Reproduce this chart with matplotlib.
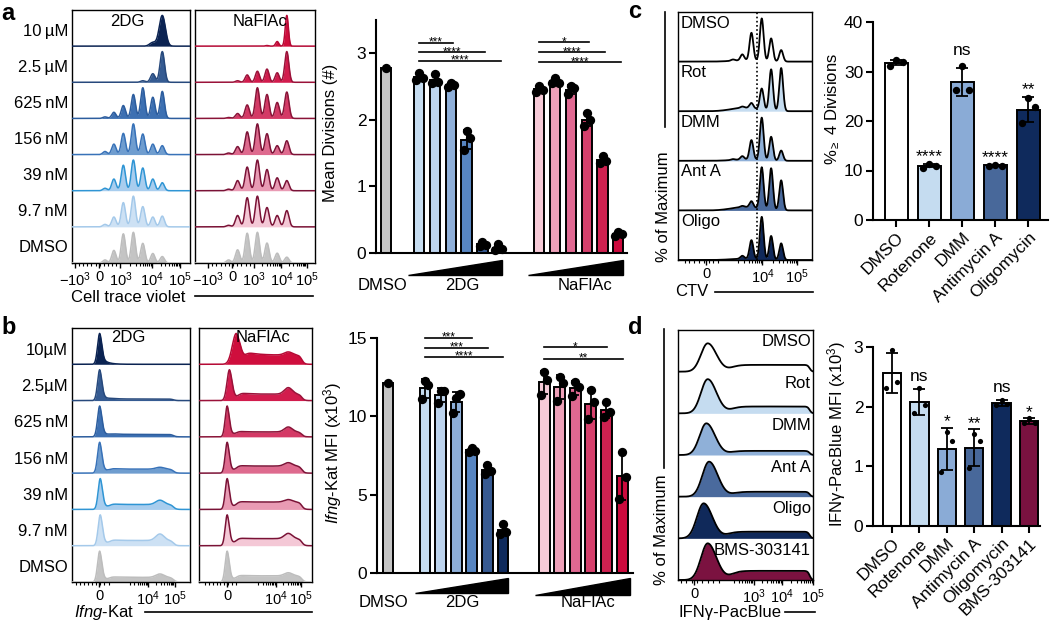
import numpy as np
import matplotlib.pyplot as plt
from matplotlib.lines import Line2D
from matplotlib.patches import Polygon

plt.rcParams['font.family'] = ['Liberation Sans', 'DejaVu Sans']
plt.rcParams['mathtext.fontset'] = 'custom'
plt.rcParams['mathtext.rm'] = 'Liberation Sans'
plt.rcParams['mathtext.it'] = 'Liberation Sans:italic'
plt.rcParams['mathtext.bf'] = 'Liberation Sans:bold'

W, H = 1050, 621

# ---------------- data ----------------
rows_a = ['10\u2009µM', '2.5\u2009µM', '625\u2009nM', '156\u2009nM', '39\u2009nM', '9.7\u2009nM', 'DMSO']
rows_b = ['10µM', '2.5µM', '625\u2009nM', '156\u2009nM', '39\u2009nM', '9.7\u2009nM', 'DMSO']

# CTV histograms: peak height per division (undivided first), relative to max
ctv_peak_pos = [0.765, 0.685, 0.60, 0.52, 0.435, 0.355, 0.28]
ctv_2dg = [
    [1.00, 0.12, 0.00, 0.00, 0.00, 0.00, 0.00],
    [1.00, 0.28, 0.05, 0.00, 0.00, 0.00, 0.00],
    [0.88, 0.69, 1.00, 0.78, 0.42, 0.20, 0.05],
    [0.29, 0.34, 0.67, 1.00, 0.69, 0.34, 0.10],
    [0.26, 0.38, 0.74, 1.00, 0.83, 0.38, 0.08],
    [0.35, 0.32, 0.66, 1.00, 0.79, 0.32, 0.08],
    [0.21, 0.31, 0.64, 1.00, 0.95, 0.41, 0.10],
]
ctv_2dg_width = [0.026, 0.019, 0.018, 0.018, 0.018, 0.018, 0.018]
ctv_nafl = [
    [1.00, 0.15, 0.02, 0.00, 0.00, 0.00, 0.00],
    [1.00, 0.31, 0.43, 0.36, 0.24, 0.05, 0.00],
    [0.86, 0.52, 0.78, 1.00, 0.44, 0.16, 0.03],
    [0.45, 0.29, 0.68, 1.00, 0.74, 0.26, 0.05],
    [0.33, 0.42, 0.69, 1.00, 0.77, 0.33, 0.05],
    [0.53, 0.37, 0.63, 1.00, 0.95, 0.37, 0.05],
    [0.19, 0.32, 0.65, 1.00, 0.97, 0.43, 0.10],
]
ctv_nafl_width = [0.013, 0.017, 0.018, 0.018, 0.018, 0.018, 0.018]

# Ifng-Kat histograms: negative peak position, plateau and bright bump (relative to max)
ifng_2dg_peak = [0.235, 0.235, 0.235, 0.235, 0.24, 0.24, 0.235]
ifng_2dg_plateau = [0.00, 0.05, 0.08, 0.13, 0.16, 0.17, 0.15]
ifng_2dg_bump = [0.00, 0.05, 0.08, 0.19, 0.30, 0.38, 0.26]
ifng_nafl_peak = [0.33, 0.27, 0.25, 0.25, 0.25, 0.25, 0.25]
ifng_nafl_width = [0.035, 0.022, 0.018, 0.018, 0.018, 0.018, 0.018]
ifng_nafl_plateau = [0.30, 0.21, 0.16, 0.23, 0.24, 0.23, 0.20]
ifng_nafl_bump = [0.40, 0.42, 0.32, 0.34, 0.32, 0.40, 0.30]

# Mean divisions (panel a bars)
div_dmso = [2.78]
div_2dg = [[2.70, 2.62, 2.60], [2.68, 2.57, 2.55], [2.55, 2.52, 2.49],
           [1.83, 1.72, 1.55], [0.17, 0.12, 0.10], [0.13, 0.06, 0.05]]
div_nafl = [[2.50, 2.45, 2.42], [2.62, 2.55, 2.55], [2.50, 2.47, 2.38],
            [2.10, 2.00, 1.90], [1.45, 1.38, 1.35], [0.32, 0.28, 0.25]]
sig_a_2dg = ['***', '****', '****']
sig_a_2dg_to = [2, 4, 5]
sig_a_nafl = ['*', '****', '****']
sig_a_nafl_to = [3, 4, 5]

# Ifng-Kat MFI x10^3 (panel b bars)
mfi_dmso = [12.1]
mfi_2dg = [[12.25, 12.0, 11.1], [11.6, 11.6, 10.85], [11.2, 11.4, 10.2],
           [8.0, 7.8, 7.7], [6.9, 6.5, 6.3], [3.1, 2.6, 2.5]]
mfi_nafl = [[12.85, 12.3, 11.35], [12.5, 12.1, 11.0], [12.2, 11.9, 11.3],
            [11.7, 10.9, 9.8], [10.9, 10.3, 9.95], [7.75, 6.15, 4.7]]
sig_b_2dg = ['***', '***', '****']
sig_b_2dg_to = [3, 4, 5]
sig_b_nafl = ['*', '**']
sig_b_nafl_to = [4, 5]

# panel c
rows_c = ['DMSO', 'Rot', 'DMM', 'Ant A', 'Oligo']
ctv_c_pos = [0.77, 0.695, 0.625, 0.548, 0.48, 0.41]
ctv_c = [
    [0.27, 0.54, 1.00, 0.65, 0.14, 0.03],
    [1.00, 0.96, 0.49, 0.12, 0.03, 0.00],
    [0.24, 0.56, 1.00, 0.46, 0.08, 0.02],
    [0.72, 1.00, 1.00, 0.15, 0.03, 0.00],
    [0.39, 0.56, 1.00, 0.44, 0.07, 0.00],
]
ctv_c_tail = [0.03, 0.08, 0.03, 0.08, 0.03]
names_c = ['DMSO', 'Rotenone', 'DMM', 'Antimycin A', 'Oligomycin']
div4_pts = [[32.3, 31.9, 31.2], [11.3, 11.0, 10.6], [31.2, 26.3, 26.2],
            [11.2, 11.0, 10.9], [24.6, 22.8, 19.5]]
div4_sig = ['', '****', 'ns', '****', '**']

# panel d
rows_d = ['DMSO', 'Rot', 'DMM', 'Ant A', 'Oligo', 'BMS-303141']
ifn_hist_height = [0.68, 0.82, 0.76, 0.84, 0.84, 0.88]
ifn_hist_center = [0.22, 0.22, 0.21, 0.23, 0.19, 0.22]
ifn_hist_plateau = [0.24, 0.20, 0.13, 0.14, 0.19, 0.25]
names_d = ['DMSO', 'Rotenone', 'DMM', 'Antimycin A', 'Oligomycin', 'BMS-303141']
ifn_pts = [[2.95, 2.42, 2.32], [2.32, 2.03, 1.90], [1.57, 1.42, 0.90],
           [1.55, 1.42, 0.97], [2.11, 2.04, 2.03], [1.81, 1.73, 1.72]]
ifn_sig = ['', 'ns', '*', '**', 'ns', '*']

# ---------------- colours ----------------
fill_2dg = ['#0b2352', '#355b92', '#3d70b2', '#6f9dcf', '#a8cdee', '#cde1f4', '#c4c4c4']
edge_2dg = ['#0b2352', '#27497c', '#2c5d9e', '#3872b8', '#2f95d4', '#a4c9ea', '#bdbdbd']
fill_nafl = ['#cf0e3d', '#d21c4d', '#d43a66', '#de6a8e', '#e99bb4', '#f4c8d6', '#c4c4c4']
edge_nafl = ['#b50a35', '#9a1239', '#8a1438', '#7c1236', '#7a1236', '#7a1236', '#bdbdbd']
bar_2dg = ['#c6ddf1', '#bcd3ed', '#8eafd9', '#5785c1', '#375a92', '#0f2a5c']
bar_nafl = ['#f6cad7', '#eda0b8', '#e06891', '#d6406c', '#cf2150', '#cc0a3d']
col_c = ['white', '#c5dcf0', '#8aabd6', '#48689a', '#0f2a5c']
col_d = ['white', '#c5dcf0', '#8aabd6', '#48689a', '#0f2a5c', '#7a1240']

fig = plt.figure(figsize=(W / 100, H / 100), dpi=100)
u = np.linspace(0, 1, 800)


def px_axes(x0, y0, x1, y1):
    return fig.add_axes([x0 / W, 1 - y1 / H, (x1 - x0) / W, (y1 - y0) / H])


def ftext(x, y, s, **kw):
    fig.text(x / W, 1 - y / H, s, **kw)


def fline(x0, y0, x1, y1, lw=1.2):
    fig.add_artist(Line2D([x0 / W, x1 / W], [1 - y0 / H, 1 - y1 / H], color='black', lw=lw))


def bell(c, w):
    return np.exp(-0.5 * ((u - c) / w) ** 2)


def step(a, s):
    return 1 / (1 + np.exp(-(u - a) / s))


def ctv_curve(heights, pos, w, tail=0.0):
    y = np.zeros_like(u)
    for h, p in zip(heights, pos):
        y += h * bell(p, w)
    y += tail * bell(0.5, 0.1) * step(0.25, 0.03)
    return y / max(1.0, y.max())


def ifng_curve(c, w, plateau, bump, bump_pos, end):
    right = 0.7 * bell(c, w) + 0.3 * np.exp(-np.clip(u - c, 0, None) / (2.5 * w))
    y = np.where(u < c, bell(c, w), right)
    y = y + plateau * step(c + 0.08, 0.015) * (1 - step(end, 0.012))
    y = y + max(bump - plateau, 0) * bell(bump_pos, 0.035)
    return y / y.max()


def ifn_curve(c, plateau):
    y = np.where(u < c, bell(c, 0.05), bell(c, 0.065))
    y = y + plateau * step(c + 0.17, 0.03) * (1 - step(0.975, 0.008))
    return y / y.max()


def decade_minor(a, b):
    return [a + (b - a) * np.log10(k) for k in range(2, 10)]


def hist_panel(box, curves, fills, edges, scale, lw, ticks, labels, minor):
    ax = px_axes(*box)
    n = len(curves)
    for i, (c, fc, ec) in enumerate(zip(curves, fills, edges)):
        base = n - 1 - i
        ax.fill_between(u, base, base + scale[i] * c, color=fc, lw=0, zorder=2)
        ax.plot(u, base + scale[i] * c, color=ec, lw=lw, zorder=3)
    ax.set_xlim(0, 1)
    ax.set_ylim(0, n)
    ax.set_yticks([])
    ax.set_xticks(ticks)
    ax.set_xticklabels(labels)
    ax.set_xticks(minor, minor=True)
    ax.tick_params(axis='x', which='major', length=3.5, width=1, pad=1.5, labelsize=10.5)
    ax.tick_params(axis='x', which='minor', length=2, width=0.8)
    for s in ax.spines.values():
        s.set_linewidth(1.0)
    return ax


def draw_bars(ax, xs, pts_list, colors, width, ms, offs, cap):
    for x, pts, col in zip(xs, pts_list, colors):
        pts = np.asarray(pts, dtype=float)
        m = pts.mean()
        ax.bar(x, m, width, color=col, edgecolor='black', linewidth=1.4, zorder=2)
        if pts.size > 1:
            ax.errorbar(x, m, yerr=pts.std(ddof=1), fmt='none', ecolor='black',
                        elinewidth=1.3, capsize=cap, capthick=1.3, zorder=3)
        ax.scatter(x + np.asarray(offs[:pts.size]), pts, s=ms, color='black',
                   zorder=4, clip_on=False, linewidths=0)


def sig_lines(ax, x0, ends, ys, labels, fs=8.5):
    for xe, y, lab in zip(ends, ys, labels):
        ax.plot([x0, xe], [y, y], color='black', lw=1.2, clip_on=False)
        ax.annotate(lab, ((x0 + xe) / 2, y), xytext=(0, -2.0), textcoords='offset points',
                    ha='center', va='baseline', fontsize=fs, annotation_clip=False)


def style(ax, lw=1.5):
    ax.spines['top'].set_visible(False)
    ax.spines['right'].set_visible(False)
    ax.spines['left'].set_linewidth(lw)
    ax.spines['bottom'].set_linewidth(lw)
    ax.tick_params(width=lw, length=5, labelsize=12.5, pad=2)


def wedge(ax, x0, x1, y_top, y_bot):
    ax.add_patch(Polygon([(x0, y_bot), (x1, y_bot), (x1, y_top)], closed=True,
                         color='black', clip_on=False))


# ================= panel a : histograms =================
row_scale7 = [0.85] * 7
ticks_a1 = [0.025, 0.23, 0.41, 0.68, 0.915]
ticks_a2 = [0.11, 0.31, 0.49, 0.72, 0.93]
lab_a = ['$-10^{3}$', '0', '$10^{3}$', '$10^{4}$', '$10^{5}$']
for box, data, widths, fills, edges, ticks, title, tx in [
        ((72, 10, 190, 263), ctv_2dg, ctv_2dg_width, fill_2dg, edge_2dg, ticks_a1, '2DG', 127),
        ((195, 10, 315, 263), ctv_nafl, ctv_nafl_width, fill_nafl, edge_nafl, ticks_a2, 'NaFlAc', 260)]:
    curves = [ctv_curve(h, ctv_peak_pos, w) for h, w in zip(data, widths)]
    minor = (decade_minor(ticks[2], ticks[3]) + decade_minor(ticks[3], ticks[4])
             + list(np.linspace(ticks[0], ticks[2], 12)[1:-1]))
    hist_panel(box, curves, fills, edges, row_scale7, 1.1, ticks, lab_a, minor)
    ftext(tx, 22, title, ha='center', va='center', fontsize=12)

row_h = (263 - 10) / 7
for i, lab in enumerate(rows_a):
    ftext(68, 10 + (i + 0.5) * row_h + 3, lab, ha='right', va='center', fontsize=12)
ftext(128, 297, 'Cell trace violet', ha='center', va='center', fontsize=12)
fline(195, 296, 313, 296)
ftext(1, 13, 'a', ha='left', va='center', fontsize=17, weight='bold')

# ================= panel a : bars =================
ax = px_axes(376, 19.5, 627, 253)
x_2dg = 2.1 + np.arange(6)
x_nafl = 9.7 + np.arange(6)
offs = [0.0, 0.22, -0.18]
draw_bars(ax, [0], [div_dmso], ['#c4c4c4'], 0.65, 45, offs, 3)
draw_bars(ax, x_2dg, div_2dg, bar_2dg, 0.65, 45, offs, 3)
draw_bars(ax, x_nafl, div_nafl, bar_nafl, 0.65, 45, offs, 3)
ax.set_xlim(-0.633, 15.25)
ax.set_ylim(0, 3.5)
ax.set_yticks([0, 1, 2, 3])
ax.set_xticks([])
style(ax)
sig_lines(ax, x_2dg[0], [x_2dg[k] + 0.15 for k in sig_a_2dg_to], [3.15, 3.01, 2.88], sig_a_2dg)
sig_lines(ax, x_nafl[0], [x_nafl[k] + 0.15 for k in sig_a_nafl_to], [3.16, 3.01, 2.86], sig_a_nafl)
wedge(ax, x_2dg[0] - 0.7, x_2dg[-1] + 0.25, -0.105, -0.33)
wedge(ax, x_nafl[0] - 0.7, x_nafl[-1] + 0.3, -0.105, -0.33)
for x, lab in [(-0.25, 'DMSO'), (x_2dg.mean() + 0.2, '2DG'), (x_nafl.mean() + 0.4, 'NaFlAc')]:
    ax.text(x, -0.48, lab, ha='center', va='center', fontsize=12, clip_on=False)
ftext(330, 133, 'Mean Divisions (#)', rotation=90, ha='center', va='center', fontsize=12)

# ================= panel b : histograms =================
for box, peaks, widths, plats, bumps, bpos, end, fills, edges, ticks, title, tx in [
        ((72, 328, 190, 582), ifng_2dg_peak, [0.018] * 7, ifng_2dg_plateau, ifng_2dg_bump,
         0.745, 0.86, fill_2dg, edge_2dg, [0.23, 0.645, 0.87], '2DG', 128),
        ((199, 328, 312, 582), ifng_nafl_peak, ifng_nafl_width, ifng_nafl_plateau, ifng_nafl_bump,
         0.79, 0.91, fill_nafl, edge_nafl, [0.25, 0.68, 0.90], 'NaFlAc', 263)]:
    curves = [ifng_curve(c, w, p, b, bpos, end) for c, w, p, b in zip(peaks, widths, plats, bumps)]
    p3 = 2 * ticks[1] - ticks[2]
    minor = (decade_minor(p3, ticks[1]) + decade_minor(ticks[1], ticks[2])
             + list(np.linspace(ticks[0] - 0.2, ticks[0] + 0.08, 9)))
    hist_panel(box, curves, fills, edges, row_scale7, 1.1, ticks,
               ['0', '$10^{4}$', '$10^{5}$'], minor)
    ftext(tx, 338, title, ha='center', va='center', fontsize=12)

row_h = (582 - 328) / 7
for i, lab in enumerate(rows_b):
    ftext(68, 328 + (i + 0.5) * row_h + 4, lab, ha='right', va='center', fontsize=12)
ftext(104, 612, r'$\mathit{Ifng}$-Kat', ha='center', va='center', fontsize=12)
fline(145, 612, 312, 612)
ftext(1, 327, 'b', ha='left', va='center', fontsize=17, weight='bold')

# ================= panel b : bars =================
ax = px_axes(377, 338, 633, 573)
x_2dg = 2.37 + np.arange(6)
x_nafl = 10.0 + np.arange(6)
draw_bars(ax, [0], [mfi_dmso], ['#c4c4c4'], 0.7, 45, offs, 3)
draw_bars(ax, x_2dg, mfi_2dg, bar_2dg, 0.7, 45, offs, 3)
draw_bars(ax, x_nafl, mfi_nafl, bar_nafl, 0.7, 45, offs, 3)
ax.set_xlim(-0.705, 15.7)
ax.set_ylim(0, 15)
ax.set_yticks([0, 5, 10, 15])
ax.set_xticks([])
style(ax)
sig_lines(ax, x_2dg[0], [x_2dg[k] + 0.03 for k in sig_b_2dg_to], [15.0, 14.36, 13.8], sig_b_2dg)
sig_lines(ax, x_nafl[0], [x_nafl[k] + 0.03 for k in sig_b_nafl_to], [14.4, 13.65], sig_b_nafl)
wedge(ax, x_2dg[0] - 0.64, x_2dg[-1] + 0.32, -0.32, -1.28)
wedge(ax, x_nafl[0] - 0.58, x_nafl[-1] + 0.5, -0.32, -1.4)
for x, lab in [(-0.3, 'DMSO'), (x_2dg.mean() - 0.1, '2DG'), (x_nafl.mean() + 0.3, 'NaFlAc')]:
    ax.text(x, -1.91, lab, ha='center', va='center', fontsize=12, clip_on=False)
ftext(333, 453, r'$\mathit{Ifng}$-Kat MFI (x10$^{3}$)', rotation=90, ha='center', va='center', fontsize=12)

# ================= panel c : histograms =================
curves = [ctv_curve(h, ctv_c_pos, 0.014, t) for h, t in zip(ctv_c, ctv_c_tail)]
fills_c = ['white', '#c5dcf0', '#8fb0d8', '#4a6a9d', '#10295a']
minor_c = decade_minor(0.63 - 0.26, 0.63) + decade_minor(0.63, 0.89) + list(np.linspace(0.05, 0.3, 8))
axc = hist_panel((678, 12, 812, 260), curves, fills_c, ['black'] * 5, [0.87] * 5, 1.3,
                 [0.21, 0.63, 0.89], ['0', '$10^{4}$', '$10^{5}$'], minor_c)
axc.axvline(0.59, color='black', lw=1.2, ls=(0, (1, 1.5)), zorder=5)
row_h = (260 - 12) / 5
for i, lab in enumerate(rows_c):
    ftext(681, 12 + i * row_h + 11, lab, ha='left', va='center', fontsize=12)
ftext(663, 207, '% of Maximum', rotation=90, ha='center', va='center', fontsize=12)
fline(665, 12, 665, 127)
ftext(692, 292, 'CTV', ha='center', va='center', fontsize=12)
fline(715, 292, 813, 292)
ftext(628, 11, 'c', ha='left', va='center', fontsize=17, weight='bold')

# ================= panel c : bars =================
ax = px_axes(873, 22, 1048, 220)
xs = np.arange(len(names_c))
draw_bars(ax, xs, div4_pts, col_c, 0.7, 28, [0.0, 0.2, -0.2], 4)
for x, pts, lab in zip(xs, div4_pts, div4_sig):
    pts = np.asarray(pts)
    top = pts.mean() + pts.std(ddof=1)
    off = 9 if lab == 'ns' else 2
    ax.annotate(lab, (x, top), xytext=(0, off), textcoords='offset points',
                ha='center', va='baseline', fontsize=12.5, annotation_clip=False)
ax.set_xlim(-0.7, 4.6)
ax.set_ylim(0, 40)
ax.set_yticks([0, 10, 20, 30, 40])
ax.set_xticks(xs)
ax.set_xticklabels(names_c, rotation=45, ha='right', va='top', rotation_mode='anchor')
style(ax)
ftext(833, 109, '%$_{\\geq}$ 4 Divisions', rotation=90, ha='center', va='center', fontsize=12)

# ================= panel d : histograms =================
curves = [ifn_curve(c, p) for c, p in zip(ifn_hist_center, ifn_hist_plateau)]
fills_d = ['white', '#c5dcf0', '#8fb0d8', '#4a6a9d', '#10295a', '#7b1240']
minor_d = decade_minor(0.35, 0.56) + decade_minor(0.56, 0.77) + decade_minor(0.77, 1.0) + list(np.linspace(0.02, 0.3, 8))
axd = hist_panel((678, 330, 813, 580), curves, fills_d, ['black'] * 6, ifn_hist_height, 1.3,
                 [0.12, 0.56, 0.77, 1.0], ['0', '$10^{3}$', '$10^{4}$', '$10^{5}$'], minor_d)
row_h = (580 - 330) / 6
for i, lab in enumerate(rows_d):
    ftext(811, 330 + i * row_h + 12, lab, ha='right', va='center', fontsize=12)
ftext(662, 530, '% of Maximum', rotation=90, ha='center', va='center', fontsize=12)
fline(664, 329, 664, 468)
ftext(730, 612, 'IFNγ-PacBlue', ha='center', va='center', fontsize=12)
fline(785, 612, 815, 612)
ftext(628, 327, 'd', ha='left', va='center', fontsize=17, weight='bold')

# ================= panel d : bars =================
ax = px_axes(873, 347, 1040, 526)
xs = np.arange(len(names_d))
draw_bars(ax, xs, ifn_pts, col_d, 0.67, 14, [0.0, 0.2, -0.2], 4)
for x, pts, lab in zip(xs, ifn_pts, ifn_sig):
    pts = np.asarray(pts)
    top = pts.mean() + pts.std(ddof=1)
    off = 6 if lab == 'ns' else 1
    ax.annotate(lab, (x, top), xytext=(0, off), textcoords='offset points',
                ha='center', va='baseline', fontsize=12.5, annotation_clip=False)
ax.set_xlim(-0.69, 5.4)
ax.set_ylim(0, 3)
ax.set_yticks([0, 1, 2, 3])
ax.set_xticks(xs)
ax.set_xticklabels(names_d, rotation=45, ha='right', va='top', rotation_mode='anchor')
style(ax)
ftext(837, 434, 'IFNγ-PacBlue MFI (x10$^{3}$)', rotation=90, ha='center', va='center', fontsize=12)

fig.savefig('out.png', dpi=100)
